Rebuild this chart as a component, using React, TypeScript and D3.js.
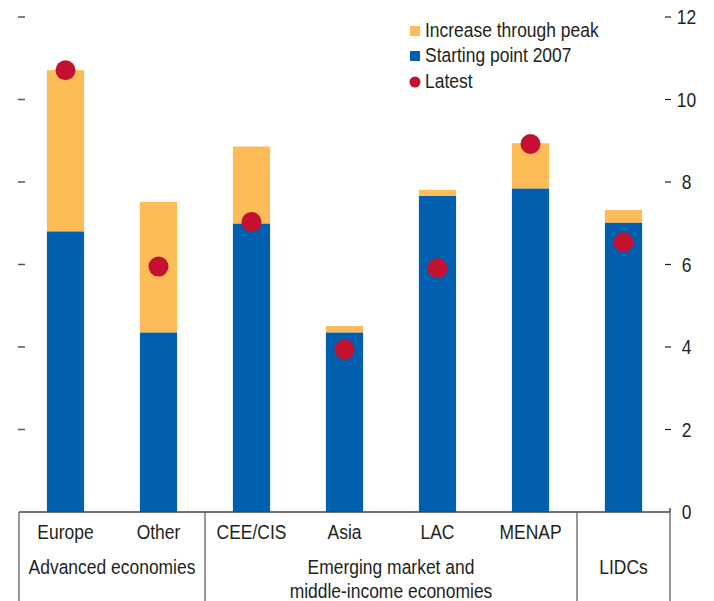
import React from "react";
import * as d3 from "d3";

// Categories, grouped beneath the axis
const categories = ["Europe", "Other", "CEE/CIS", "Asia", "LAC", "MENAP", "LIDCs"];
const categoryLabels = ["Europe", "Other", "CEE/CIS", "Asia", "LAC", "MENAP", ""];
const start2007 = [6.8, 4.35, 6.99, 4.35, 7.66, 7.84, 7.01];
const peak = [10.71, 7.52, 8.86, 4.51, 7.81, 8.94, 7.32];
const latest = [10.71, 5.95, 7.03, 3.94, 5.91, 8.92, 6.54];
const yTicks = [0, 2, 4, 6, 8, 10, 12];

const groupNames = [["Advanced economies"], ["Emerging market and", "middle-income economies"], ["LIDCs"]];
const groupSpans = [[0, 1], [2, 5], [6, 6]];

const legendLabels = ["Increase through peak", "Starting point 2007", "Latest"];

const W = 714;
const H = 601;
const ORANGE = "#FDBC57";
const BLUE = "#005FAE";
const RED = "#C3112F";
const INK = "#231F20";
const FONT = "'Liberation Sans', Arial, sans-serif";
const FS = 19.5;
const NARROW = 0.895;

// Condensed text: a regular sans squeezed horizontally around its anchor point
function T({
  x,
  y,
  anchor = "start",
  dy,
  children,
}: {
  x: number;
  y: number;
  anchor?: "start" | "middle" | "end";
  dy?: string;
  children: React.ReactNode;
}) {
  return (
    <text
      transform={`translate(${x},${y}) scale(${NARROW},1)`}
      textAnchor={anchor}
      dy={dy}
      fontSize={FS}
      fill={INK}
    >
      {children}
    </text>
  );
}

export default function App() {
  const left = 19;
  const right = 670;
  const y = d3.scaleLinear().domain([0, 12]).range([512, 17]);
  const x = d3
    .scaleBand<string>()
    .domain(categories)
    .range([left, right])
    .paddingInner(0.6)
    .paddingOuter(0.3);
  const step = x.step();
  const bw = x.bandwidth();
  const y0 = y(0);
  const edge = (i: number) => left + i * step;

  return (
    <svg
      width={W}
      height={H}
      style={{ position: "absolute", left: 0, top: 0, fontFamily: FONT }}
    >
      <rect width={W} height={H} fill="#fff" />

      {/* left tick marks */}
      {yTicks.slice(1).map((t) => (
        <line key={"l" + t} x1={18} x2={25} y1={y(t)} y2={y(t)} stroke="#555" strokeWidth={1.5} />
      ))}

      {/* right axis */}
      {yTicks.map((t) => (
        <g key={"r" + t}>
          {t > 0 && <line x1={665} x2={671} y1={y(t)} y2={y(t)} stroke={INK} strokeWidth={1.2} />}
          <T x={686.5} y={y(t)} dy="0.36em" anchor="middle">
            {t}
          </T>
        </g>
      ))}

      {/* bars */}
      {categories.map((c, i) => (
        <g key={c}>
          <rect x={x(c)} width={bw} y={y(peak[i])} height={y(start2007[i]) - y(peak[i])} fill={ORANGE} />
          <rect x={x(c)} width={bw} y={y(start2007[i])} height={y0 - y(start2007[i])} fill={BLUE} />
          <circle cx={(x(c) as number) + bw / 2} cy={y(latest[i])} r={10} fill={RED} />
        </g>
      ))}

      {/* baseline and group frame */}
      <line x1={left} x2={right} y1={y0} y2={y0} stroke="#444" strokeWidth={1.5} />
      <line x1={right} x2={right} y1={y0 - 4} y2={y0} stroke="#444" strokeWidth={1.5} />
      {[0, 2, 6, 7].map((k) => (
        <line key={"v" + k} x1={edge(k)} x2={edge(k)} y1={y0} y2={H} stroke="#555" strokeWidth={1.2} />
      ))}

      {/* category labels */}
      {categories.map((c, i) => (
        <T key={"c" + c} x={(x(c) as number) + bw / 2} y={539} anchor="middle">
          {categoryLabels[i]}
        </T>
      ))}

      {/* group labels */}
      {groupNames.map((lines, g) => {
        const cx = (edge(groupSpans[g][0]) + edge(groupSpans[g][1] + 1)) / 2;
        return lines.map((ln, j) => (
          <T key={"g" + g + j} x={cx} y={573.5 + j * 24} anchor="middle">
            {ln}
          </T>
        ));
      })}

      {/* legend */}
      <g>
        <rect x={410} y={26} width={10} height={10} fill={ORANGE} />
        <rect x={410} y={51} width={10} height={10} fill={BLUE} />
        <circle cx={415} cy={82} r={5.5} fill={RED} />
        {legendLabels.map((l, i) => (
          <T key={l} x={425} y={37 + i * 25.3}>
            {l}
          </T>
        ))}
      </g>
    </svg>
  );
}
